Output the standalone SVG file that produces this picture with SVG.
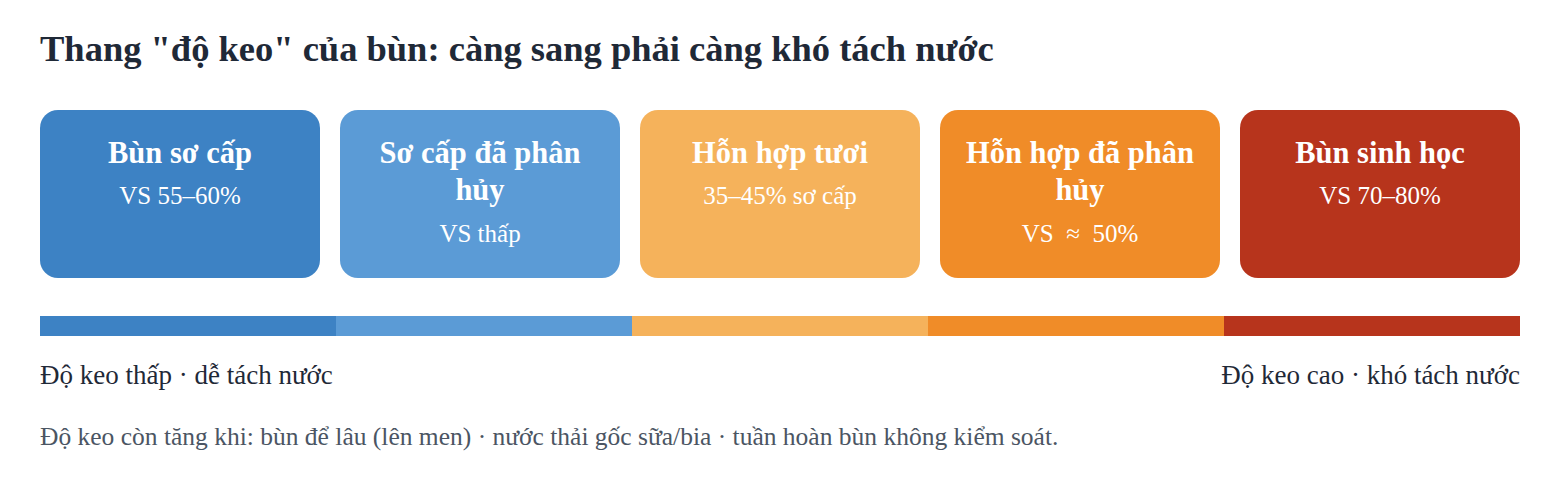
<svg xmlns="http://www.w3.org/2000/svg" width="1560" height="480" viewBox="0 0 1560 480">
<style>
.t{font-family:"Liberation Serif","Times New Roman",serif;}
.title{font-size:36.5px;font-weight:bold;fill:#1f2937;}
.ct{font-size:30.5px;font-weight:bold;fill:#ffffff;text-anchor:middle;}
.cs{font-size:25px;fill:#ffffff;text-anchor:middle;}
.lab{font-size:27px;fill:#1f2937;}
.note{font-size:25.5px;fill:#4b5563;}
</style>
<rect width="1560" height="480" fill="#ffffff"/>
<text class="t title" x="40" y="61">Thang "độ keo" của bùn: càng sang phải càng khó tách nước</text>
<g id="card1">
<rect x="40" y="110" width="280" height="168" rx="18" fill="#3d82c4"/>
<text class="t ct" x="180" y="163">Bùn sơ cấp</text>
<text class="t cs" x="180" y="204">VS 55–60%</text>
</g>
<g id="card2">
<rect x="340" y="110" width="280" height="168" rx="18" fill="#5b9bd6"/>
<text class="t ct" x="480" y="163">Sơ cấp đã phân</text>
<text class="t ct" x="480" y="200">hủy</text>
<text class="t cs" x="480" y="242">VS thấp</text>
</g>
<g id="card3">
<rect x="640" y="110" width="280" height="168" rx="18" fill="#f5b25b"/>
<text class="t ct" x="780" y="163">Hỗn hợp tươi</text>
<text class="t cs" x="780" y="204">35–45% sơ cấp</text>
</g>
<g id="card4">
<rect x="940" y="110" width="280" height="168" rx="18" fill="#f08c28"/>
<text class="t ct" x="1080" y="163">Hỗn hợp đã phân</text>
<text class="t ct" x="1080" y="200">hủy</text>
<text class="t cs" x="1080" y="242" xml:space="preserve">VS  ≈  50%</text>
</g>
<g id="card5">
<rect x="1240" y="110" width="280" height="168" rx="18" fill="#b7341c"/>
<text class="t ct" x="1380" y="163">Bùn sinh học</text>
<text class="t cs" x="1380" y="204">VS 70–80%</text>
</g>
<g id="scale">
<rect x="40" y="316" width="296" height="20" fill="#3d82c4"/>
<rect x="336" y="316" width="296" height="20" fill="#5b9bd6"/>
<rect x="632" y="316" width="296" height="20" fill="#f5b25b"/>
<rect x="928" y="316" width="296" height="20" fill="#f08c28"/>
<rect x="1224" y="316" width="296" height="20" fill="#b7341c"/>
</g>
<text class="t lab" x="40" y="384">Độ keo thấp · dễ tách nước</text>
<text class="t lab" x="1520" y="384" text-anchor="end">Độ keo cao · khó tách nước</text>
<text class="t note" x="40" y="445">Độ keo còn tăng khi: bùn để lâu (lên men) · nước thải gốc sữa/bia · tuần hoàn bùn không kiểm soát.</text>
</svg>
